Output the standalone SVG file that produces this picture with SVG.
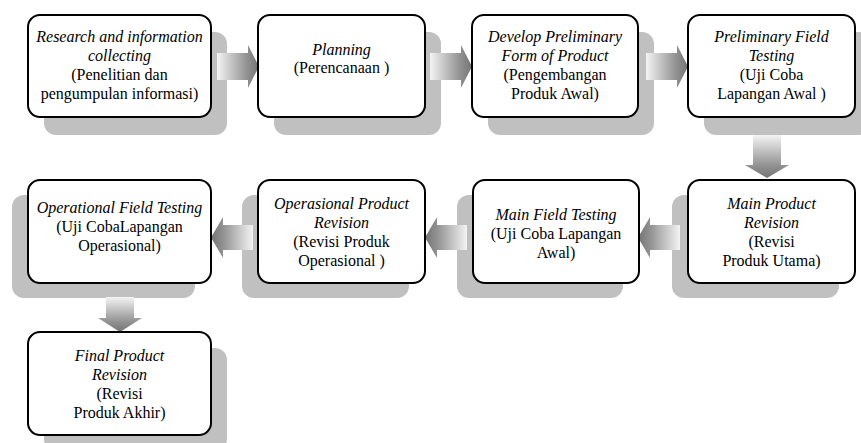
<svg xmlns="http://www.w3.org/2000/svg" width="861" height="443" viewBox="0 0 861 443">
<style>
.box{fill:#fff;stroke:#000;stroke-width:2}
.sh{fill:#c0c0c0}
.t text{font-size:16px;fill:#000;text-anchor:middle}
.i{font-style:italic}
</style>
<defs>
<linearGradient id="gr" x1="0" y1="0" x2="1" y2="0"><stop offset="0" stop-color="#f4f4f4"/><stop offset="0.7" stop-color="#939393"/><stop offset="1" stop-color="#747474"/></linearGradient>
<linearGradient id="gl" x1="1" y1="0" x2="0" y2="0"><stop offset="0" stop-color="#f4f4f4"/><stop offset="0.7" stop-color="#939393"/><stop offset="1" stop-color="#747474"/></linearGradient>
<linearGradient id="gd" x1="0" y1="0" x2="0" y2="1"><stop offset="0" stop-color="#f4f4f4"/><stop offset="0.7" stop-color="#939393"/><stop offset="1" stop-color="#747474"/></linearGradient>
</defs>
<g id="shadows">
<rect class="sh" x="44" y="32" width="183" height="103" rx="12"/>
<rect class="sh" x="274" y="32" width="167" height="103" rx="12"/>
<rect class="sh" x="488" y="32" width="166" height="103" rx="12"/>
<rect class="sh" x="704" y="32" width="167" height="103" rx="12"/>
<rect class="sh" x="672" y="195" width="167" height="103" rx="12"/>
<rect class="sh" x="457" y="195" width="166" height="103" rx="12"/>
<rect class="sh" x="242" y="195" width="167" height="103" rx="12"/>
<rect class="sh" x="12" y="195" width="183" height="103" rx="12"/>
<rect class="sh" x="44" y="348" width="183" height="103" rx="12"/>
</g>
<g id="connectors">
<polygon fill="url(#gr)" points="217,53 248,53 248,45 259,66.5 248,88 248,80 217,80"/>
<polygon fill="url(#gr)" points="430,53 461,53 461,45 472,66.5 461,88 461,80 430,80"/>
<polygon fill="url(#gr)" points="646,53 677,53 677,45 688,66.5 677,88 677,80 646,80"/>
<polygon fill="url(#gd)" points="753,135 781,135 781,165 789,165 767,178 745,165 753,165"/>
<polygon fill="url(#gl)" points="680,225 650,225 650,217 638,237.5 650,258 650,250 680,250"/>
<polygon fill="url(#gl)" points="467,225 437,225 437,217 425,237.5 437,258 437,250 467,250"/>
<polygon fill="url(#gl)" points="253,225 223,225 223,217 211,237.5 223,258 223,250 253,250"/>
<polygon fill="url(#gd)" points="106,297 134,297 134,318 142,318 120,332 98,318 106,318"/>
</g>
<g class="t" font-family="'Liberation Serif', 'DejaVu Serif', serif">
<g id="n1">
<rect class="box" x="28" y="15" width="183" height="102" rx="12"/>
<text x="119.5" y="42" class="i">Research and information</text>
<text x="119.5" y="61" class="i">collecting</text>
<text x="119.5" y="80">(Penelitian dan</text>
<text x="119.5" y="99">pengumpulan informasi)</text>
</g>
<g id="n2">
<rect class="box" x="258" y="15" width="167" height="102" rx="12"/>
<text x="341.5" y="55" class="i">Planning</text>
<text x="341.5" y="73">(Perencanaan )</text>
</g>
<g id="n3">
<rect class="box" x="472" y="15" width="166" height="102" rx="12"/>
<text x="555" y="42" class="i">Develop Preliminary</text>
<text x="555" y="61" class="i">Form of Product</text>
<text x="555" y="80">(Pengembangan</text>
<text x="555" y="99">Produk Awal)</text>
</g>
<g id="n4">
<rect class="box" x="688" y="15" width="167" height="102" rx="12"/>
<text x="771.5" y="42" class="i">Preliminary Field</text>
<text x="771.5" y="61" class="i">Testing</text>
<text x="771.5" y="80">(Uji Coba</text>
<text x="771.5" y="99">Lapangan Awal )</text>
</g>
<g id="n5">
<rect class="box" x="688" y="180" width="167" height="103" rx="12"/>
<text x="771.5" y="209" class="i">Main Product</text>
<text x="771.5" y="228" class="i">Revision</text>
<text x="771.5" y="247">(Revisi</text>
<text x="771.5" y="266">Produk Utama)</text>
</g>
<g id="n6">
<rect class="box" x="473" y="180" width="166" height="103" rx="12"/>
<text x="556" y="220" class="i">Main Field Testing</text>
<text x="556" y="239">(Uji Coba Lapangan</text>
<text x="556" y="258">Awal)</text>
</g>
<g id="n7">
<rect class="box" x="258" y="180" width="167" height="103" rx="12"/>
<text x="341.5" y="209" class="i">Operasional Product</text>
<text x="341.5" y="228" class="i">Revision</text>
<text x="341.5" y="247">(Revisi Produk</text>
<text x="341.5" y="266">Operasional )</text>
</g>
<g id="n8">
<rect class="box" x="28" y="180" width="183" height="103" rx="12"/>
<text x="119.5" y="213" class="i">Operational Field Testing</text>
<text x="119.5" y="232">(Uji CobaLapangan</text>
<text x="119.5" y="251">Operasional)</text>
</g>
<g id="n9">
<rect class="box" x="28" y="332" width="183" height="103" rx="12"/>
<text x="119.5" y="361" class="i">Final Product</text>
<text x="119.5" y="380" class="i">Revision</text>
<text x="119.5" y="399">(Revisi</text>
<text x="119.5" y="418">Produk Akhir)</text>
</g>
</g>
</svg>
